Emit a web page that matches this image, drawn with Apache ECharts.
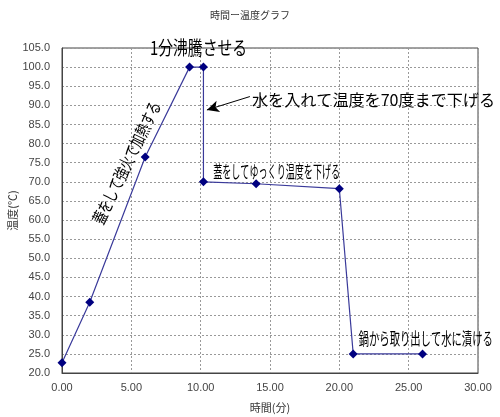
<!DOCTYPE html>
<html><head><meta charset="utf-8">
<script src="https://cdn.jsdelivr.net/npm/echarts@6/dist/echarts.min.js"></script>
<style>html,body{margin:0;padding:0;background:#fff}#c{width:500px;height:417px}</style>
</head><body><div id="c"></div>
<script>
// Data
const timeMin = [0.0, 2.0, 6.0, 9.2, 10.2, 10.2, 14.0, 20.0, 21.0, 26.0];
const tempC   = [22.7, 38.5, 76.5, 100.0, 100.0, 70.0, 69.5, 68.2, 25.0, 25.0];
const titleText = '時間ー温度グラフ';
const xName = '時間(分)';
const yName = '温度(℃)';

const FONT = '"Noto Sans CJK JP", sans-serif';
const notes = [
  {text: '1分沸騰させる', at: [6.35, 105.0], size: 19, width: 97, rot: 0},
  {text: '水を入れて温度を70度まで下げる', at: [13.7, 91.4], size: 16, width: 243, rot: 0},
  {text: '蓋をしてゆっくり温度を下げる', at: [10.9, 72.6], size: 17, width: 127, rot: 0},
  {text: '鍋から取り出して水に漬ける', at: [21.4, 28.9], size: 17, width: 134, rot: 0},
  {text: '蓋をして強火で加熱する', at: [4.65, 75.0], size: 17, width: 134, rot: 64, center: true}
];

const chart = echarts.init(document.getElementById('c'), null, {renderer: 'canvas'});
const pts = timeMin.map((t, i) => [t, tempC[i]]);

chart.setOption({
  animation: false,
  backgroundColor: '#fff',
  title: {text: titleText, left: 'center', top: 5,
    textStyle: {fontSize: 10, fontWeight: 'normal', color: '#333', fontFamily: FONT}},
  grid: {left: 62, right: 22, top: 48, bottom: 44, outerBoundsMode: 'none', containLabel: false,
    show: true, borderColor: '#444', borderWidth: 1, backgroundColor: '#fff'},
  xAxis: {type: 'value', min: 0, max: 30, interval: 5,
    name: xName, nameLocation: 'middle', nameGap: 29, nameMoveOverlap: false,
    nameTextStyle: {fontSize: 11, color: '#333', fontFamily: FONT},
    axisLine: {show: true, lineStyle: {color: '#444'}},
    axisTick: {show: false},
    axisLabel: {formatter: v => v.toFixed(2), fontSize: 11, color: '#444', margin: 9, fontFamily: 'Liberation Sans, Arial, sans-serif'},
    splitLine: {show: true, lineStyle: {color: '#999', type: [2, 2], width: 1}}
  },
  yAxis: {type: 'value', min: 20, max: 105, interval: 5,
    name: yName, nameLocation: 'middle', nameGap: 44, nameRotate: 90, nameMoveOverlap: false,
    nameTextStyle: {fontSize: 11, color: '#333', fontFamily: FONT},
    axisLine: {show: true, lineStyle: {color: '#444'}},
    axisTick: {show: false},
    axisLabel: {formatter: v => v.toFixed(1), fontSize: 11, color: '#444', margin: 12, fontFamily: 'Liberation Sans, Arial, sans-serif'},
    splitLine: {show: true, lineStyle: {color: '#999', type: [2, 2], width: 1}}
  },
  series: [{
    type: 'line', data: pts, symbol: 'diamond', symbolSize: 9,
    lineStyle: {color: '#3a3a9a', width: 1.2},
    itemStyle: {color: '#000080'},
    markLine: {
      silent: true, animation: false,
      label: {show: false},
      lineStyle: {color: '#000', width: 1, type: 'solid'},
      symbolSize: [9, 12],
      data: [[{coord: [13.55, 92.3], symbol: 'none'}, {coord: [10.45, 88.8], symbol: 'arrow'}]]
    }
  }]
});

const ctx = document.createElement('canvas').getContext('2d');
const graphics = notes.map(n => {
  ctx.font = n.size + 'px ' + FONT;
  const w = ctx.measureText(n.text).width;
  const sx = n.width / w;
  const p = chart.convertToPixel({gridIndex: 0}, n.at);
  return {
    type: 'text', x: p[0], y: p[1], scaleX: sx, rotation: n.rot * Math.PI / 180,
    z: 100,
    style: {text: n.text, fontSize: n.size, fontFamily: FONT, fill: '#000',
      textAlign: n.center ? 'center' : 'left', textVerticalAlign: 'middle'}
  };
});
chart.setOption({graphic: graphics});
</script></body></html>
